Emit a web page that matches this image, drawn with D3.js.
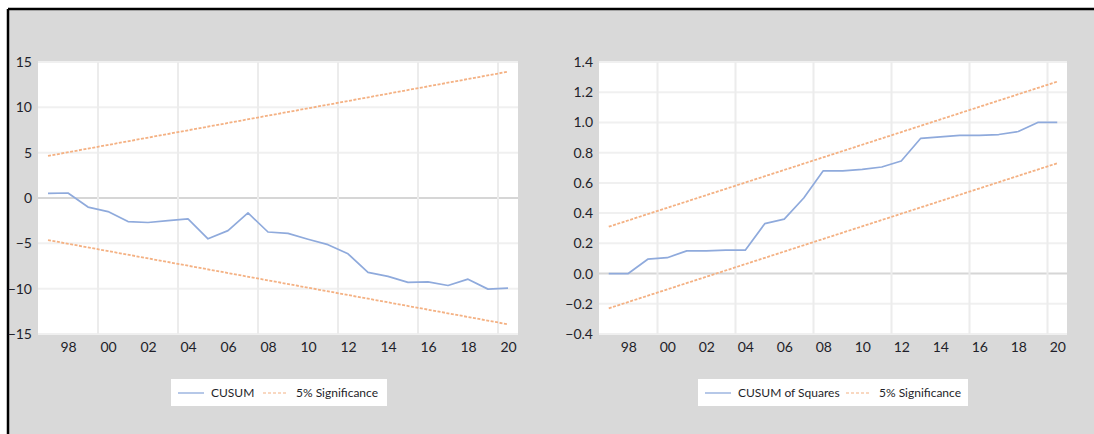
<!DOCTYPE html>
<html>
<head>
<meta charset="utf-8">
<script src="https://cdn.jsdelivr.net/npm/d3@7"></script>
<style>
  html, body { margin: 0; padding: 0; background: #ffffff; }
  svg { display: block; }
  text { font-family: Lato, "Open Sans", sans-serif; fill: #1f1f2a; }
</style>
</head>
<body>
<svg id="chart" width="1094" height="434"></svg>
<script>
// Observation years (annual data)
const years = d3.range(1997, 2021);

// Recursive CUSUM statistic
const cusum = [0.5, 0.55, -1.0, -1.5, -2.6, -2.7, -2.5, -2.3, -4.5, -3.6, -1.65, -3.75,
               -3.9, -4.55, -5.15, -6.15, -8.2, -8.65, -9.3, -9.25, -9.65, -8.95, -10.05, -9.95];

// CUSUM of squares statistic
const cusumSq = [0.0, 0.0, 0.095, 0.105, 0.15, 0.15, 0.155, 0.155, 0.33, 0.36, 0.5, 0.68,
                 0.68, 0.69, 0.705, 0.745, 0.895, 0.905, 0.915, 0.915, 0.92, 0.94, 1.0, 1.0];

// 5% significance bounds (straight lines from first to last observation)
const boundYears = [1997, 2020];
const cusumUpper = [4.64, 13.93];
const cusumLower = [-4.64, -13.93];
const sqUpper = [0.31, 1.27];
const sqLower = [-0.23, 0.73];

// Axis ticks
const cusumTicks = [15, 10, 5, 0, -5, -10, -15];
const sqTicks = [1.4, 1.2, 1.0, 0.8, 0.6, 0.4, 0.2, 0.0, -0.2, -0.4];
const yearLabelYears = d3.range(1998, 2021, 2);
const yearLabels = ["98", "00", "02", "04", "06", "08", "10", "12", "14", "16", "18", "20"];
const gridYears = [2000, 2004, 2008, 2012, 2016, 2020];

const BLUE = "#8faadc";
const ORANGE = "#f4b183";

const svg = d3.select("#chart");

// Gray frame with black top and left border
svg.append("rect").attr("x", 8).attr("y", 9).attr("width", 1086).attr("height", 425).attr("fill", "#d9d9d9");
svg.append("line").attr("x1", 8).attr("x2", 1094).attr("y1", 9).attr("y2", 9)
  .attr("stroke", "#000").attr("stroke-width", 2.5);
svg.append("line").attr("x1", 8).attr("x2", 8).attr("y1", 9).attr("y2", 434)
  .attr("stroke", "#000").attr("stroke-width", 2.5);

function panel(opts) {
  const g = svg.append("g");
  const x = d3.scaleLinear().domain([1997, 2021]).range([opts.left, opts.right]);
  const y = d3.scaleLinear().domain(opts.yDomain).range([opts.bottom, opts.top]);

  g.append("rect").attr("x", opts.left).attr("y", opts.top)
    .attr("width", opts.right - opts.left).attr("height", opts.bottom - opts.top)
    .attr("fill", "#ffffff");

  // horizontal gridlines
  g.selectAll(".hgrid").data(opts.yTicks).enter().append("line")
    .attr("x1", opts.left).attr("x2", opts.right)
    .attr("y1", d => y(d)).attr("y2", d => y(d))
    .attr("stroke", d => Math.abs(d) < 1e-9 ? "#d6d6d6" : "#f0f0f0")
    .attr("stroke-width", 2);

  // vertical gridlines
  g.selectAll(".vgrid").data(gridYears).enter().append("line")
    .attr("x1", d => x(d)).attr("x2", d => x(d))
    .attr("y1", opts.top).attr("y2", opts.bottom)
    .attr("stroke", "#ececec").attr("stroke-width", 2);

  // y axis labels
  const yAxis = d3.axisLeft(y).tickValues(opts.yTicks).tickFormat(opts.fmt).tickSize(0).tickPadding(6);
  const ya = g.append("g").attr("transform", `translate(${opts.left},0)`).call(yAxis);
  ya.select(".domain").remove();
  ya.selectAll("text").style("font-family", "Lato, sans-serif").style("font-size", "14px").attr("fill", "#1f1f2a");

  // x axis labels (centred within each year)
  const xAxis = d3.axisBottom(x).tickValues(yearLabelYears.map(v => v + 0.5))
    .tickFormat((d, i) => yearLabels[i]).tickSize(0).tickPadding(8);
  const xa = g.append("g").attr("transform", `translate(0,${opts.bottom})`).call(xAxis);
  xa.select(".domain").remove();
  xa.selectAll("text").style("font-family", "Lato, sans-serif").style("font-size", "14px").attr("fill", "#1f1f2a");

  // significance bounds
  const bline = d3.line().x((d, i) => x(boundYears[i] + 0.5)).y(d => y(d));
  [opts.upper, opts.lower].forEach(b => {
    g.append("path").attr("d", bline(b)).attr("fill", "none")
      .attr("stroke", ORANGE).attr("stroke-width", 1.8).attr("stroke-dasharray", "3,1.5");
  });

  // statistic
  const sline = d3.line().x((d, i) => x(years[i] + 0.5)).y(d => y(d));
  g.append("path").attr("d", sline(opts.series)).attr("fill", "none")
    .attr("stroke", BLUE).attr("stroke-width", 1.7).attr("stroke-linejoin", "round");

  // legend
  const lg = g.append("g");
  lg.append("rect").attr("x", opts.legend.x).attr("y", 379).attr("width", opts.legend.w).attr("height", 27)
    .attr("fill", "#ffffff");
  const ly = 393;
  lg.append("line").attr("x1", opts.legend.x + 7).attr("x2", opts.legend.x + 33)
    .attr("y1", ly).attr("y2", ly).attr("stroke", BLUE).attr("stroke-width", 1.3);
  lg.append("text").attr("x", opts.legend.x + 40).attr("y", ly + 4)
    .style("font-size", "12px").text(opts.name);
  lg.append("line").attr("x1", opts.legend.dashX).attr("x2", opts.legend.dashX + 25)
    .attr("y1", ly).attr("y2", ly).attr("stroke", ORANGE).attr("stroke-width", 1.1)
    .attr("stroke-dasharray", "3,2");
  lg.append("text").attr("x", opts.legend.dashX + 33).attr("y", ly + 4)
    .style("font-size", "12px").text("5% Significance");
}

panel({
  left: 38, right: 518, top: 62, bottom: 334,
  yDomain: [-15, 15], yTicks: cusumTicks, fmt: d3.format("d"),
  series: cusum, upper: cusumUpper, lower: cusumLower, name: "CUSUM",
  legend: { x: 171, w: 216, dashX: 263 }
});

panel({
  left: 599, right: 1067, top: 62, bottom: 334,
  yDomain: [-0.4, 1.4], yTicks: sqTicks, fmt: d3.format(".1f"),
  series: cusumSq, upper: sqUpper, lower: sqLower, name: "CUSUM of Squares",
  legend: { x: 698, w: 270, dashX: 846 }
});
</script>
</body>
</html>
